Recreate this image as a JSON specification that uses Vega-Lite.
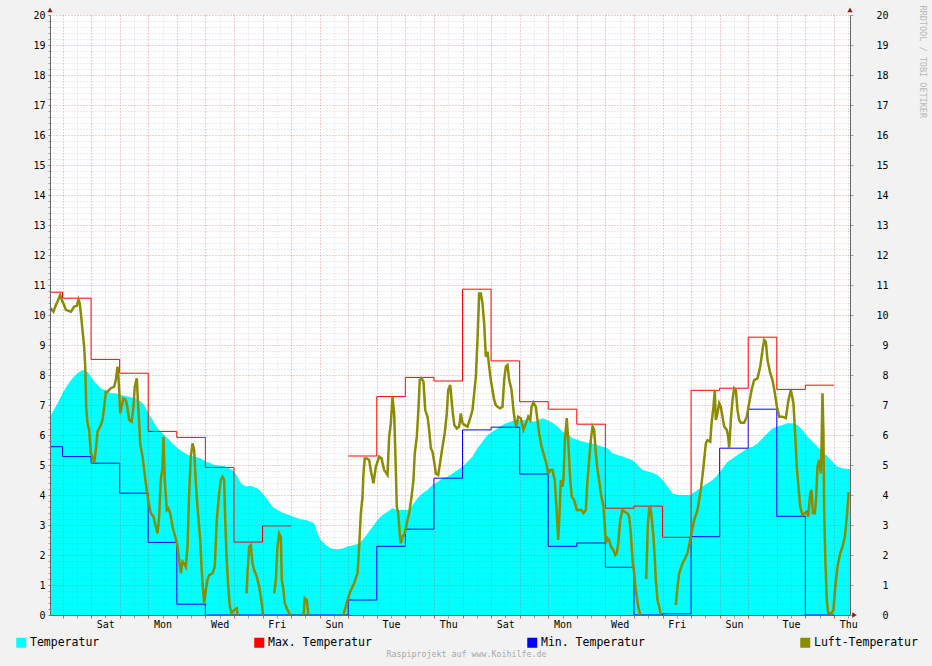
{
  "$schema": "https://vega.github.io/schema/vega-lite/v6.json",
  "description": "RRDtool-style 4-week temperature graph: water temperature area, daily max/min steps, air temperature line.",
  "width": 800,
  "height": 600,
  "autosize": {"type": "none"},
  "padding": {"left": 50, "top": 15, "right": 82, "bottom": 51},
  "background": "#f2f2f2",
  "datasets": {
    "temp": [
      {"h": -10.5, "v": 6.61}, {"h": -4.2, "v": 7.06}, {"h": 0, "v": 7.39}, {"h": 4.2, "v": 7.67}, {"h": 8.4, "v": 7.89},
      {"h": 12.6, "v": 8.06}, {"h": 16.8, "v": 8.17}, {"h": 21, "v": 8.11}, {"h": 23.8, "v": 7.94}, {"h": 28, "v": 7.72},
      {"h": 32.2, "v": 7.56}, {"h": 35, "v": 7.5}, {"h": 40.6, "v": 7.39}, {"h": 44.8, "v": 7.39}, {"h": 49, "v": 7.33},
      {"h": 54.6, "v": 7.28}, {"h": 61.6, "v": 7.22}, {"h": 65.8, "v": 7.11}, {"h": 68.6, "v": 7.0}, {"h": 71.4, "v": 6.78},
      {"h": 75.6, "v": 6.5}, {"h": 79.8, "v": 6.22}, {"h": 84, "v": 6.06}, {"h": 88.2, "v": 5.89}, {"h": 92.4, "v": 5.72},
      {"h": 96.6, "v": 5.56}, {"h": 100.8, "v": 5.44}, {"h": 105, "v": 5.33}, {"h": 110.6, "v": 5.28}, {"h": 116.2, "v": 5.22},
      {"h": 120.4, "v": 5.11}, {"h": 124.6, "v": 5.06}, {"h": 127.4, "v": 5.0}, {"h": 135.8, "v": 4.97}, {"h": 140, "v": 4.89},
      {"h": 144.2, "v": 4.78}, {"h": 147, "v": 4.61}, {"h": 149.8, "v": 4.39}, {"h": 154, "v": 4.28}, {"h": 158.2, "v": 4.3},
      {"h": 163.8, "v": 4.22}, {"h": 168, "v": 4.06}, {"h": 172.2, "v": 3.83}, {"h": 176.4, "v": 3.61}, {"h": 180.6, "v": 3.5},
      {"h": 184.8, "v": 3.41}, {"h": 190.4, "v": 3.33}, {"h": 194.6, "v": 3.26}, {"h": 200.2, "v": 3.19}, {"h": 205.8, "v": 3.15},
      {"h": 211.4, "v": 3.06}, {"h": 214.2, "v": 2.72}, {"h": 217, "v": 2.5}, {"h": 221.2, "v": 2.33}, {"h": 225.4, "v": 2.22},
      {"h": 231, "v": 2.19}, {"h": 235.2, "v": 2.22}, {"h": 239.4, "v": 2.28}, {"h": 245, "v": 2.33}, {"h": 249.2, "v": 2.39},
      {"h": 253.4, "v": 2.56}, {"h": 256.2, "v": 2.72}, {"h": 260.4, "v": 2.94}, {"h": 264.6, "v": 3.17}, {"h": 268.8, "v": 3.33},
      {"h": 273, "v": 3.44}, {"h": 277.2, "v": 3.56}, {"h": 281.4, "v": 3.5}, {"h": 291.2, "v": 3.5}, {"h": 294, "v": 3.67},
      {"h": 298.2, "v": 3.89}, {"h": 302.4, "v": 4.06}, {"h": 306.6, "v": 4.17}, {"h": 310.8, "v": 4.33}, {"h": 315, "v": 4.44},
      {"h": 319.2, "v": 4.56}, {"h": 323.4, "v": 4.61}, {"h": 327.6, "v": 4.72}, {"h": 331.8, "v": 4.83}, {"h": 336, "v": 4.94},
      {"h": 340.2, "v": 5.11}, {"h": 344.4, "v": 5.28}, {"h": 348.6, "v": 5.56}, {"h": 352.8, "v": 5.78}, {"h": 357, "v": 6.0},
      {"h": 361.2, "v": 6.11}, {"h": 365.4, "v": 6.22}, {"h": 369.6, "v": 6.33}, {"h": 373.8, "v": 6.41}, {"h": 379.4, "v": 6.48},
      {"h": 385, "v": 6.5}, {"h": 390.6, "v": 6.5}, {"h": 396.2, "v": 6.44}, {"h": 403.2, "v": 6.56}, {"h": 407.4, "v": 6.5},
      {"h": 411.6, "v": 6.41}, {"h": 415.8, "v": 6.28}, {"h": 420, "v": 6.11}, {"h": 424.2, "v": 6.03}, {"h": 428.4, "v": 5.89},
      {"h": 432.6, "v": 5.83}, {"h": 436.8, "v": 5.78}, {"h": 441, "v": 5.74}, {"h": 445.2, "v": 5.72}, {"h": 449.4, "v": 5.67},
      {"h": 453.6, "v": 5.61}, {"h": 457.8, "v": 5.56}, {"h": 462, "v": 5.39}, {"h": 466.2, "v": 5.33}, {"h": 470.4, "v": 5.28},
      {"h": 474.6, "v": 5.22}, {"h": 478.8, "v": 5.17}, {"h": 483, "v": 5.0}, {"h": 487.2, "v": 4.83}, {"h": 491.4, "v": 4.78},
      {"h": 495.6, "v": 4.74}, {"h": 499.8, "v": 4.67}, {"h": 504, "v": 4.5}, {"h": 508.2, "v": 4.28}, {"h": 512.4, "v": 4.06},
      {"h": 516.6, "v": 4.0}, {"h": 527.8, "v": 4.0}, {"h": 529.2, "v": 4.06}, {"h": 533.4, "v": 4.17}, {"h": 537.6, "v": 4.28},
      {"h": 541.8, "v": 4.39}, {"h": 546, "v": 4.5}, {"h": 550.2, "v": 4.67}, {"h": 554.4, "v": 4.89}, {"h": 558.6, "v": 5.11},
      {"h": 562.8, "v": 5.22}, {"h": 567, "v": 5.33}, {"h": 571.2, "v": 5.44}, {"h": 575.4, "v": 5.56}, {"h": 579.6, "v": 5.61},
      {"h": 583.8, "v": 5.72}, {"h": 588, "v": 5.89}, {"h": 592.2, "v": 6.06}, {"h": 596.4, "v": 6.22}, {"h": 600.6, "v": 6.28},
      {"h": 604.8, "v": 6.33}, {"h": 609, "v": 6.39}, {"h": 613.2, "v": 6.39}, {"h": 617.4, "v": 6.33}, {"h": 621.6, "v": 6.17},
      {"h": 625.8, "v": 5.94}, {"h": 630, "v": 5.78}, {"h": 634.2, "v": 5.61}, {"h": 638.4, "v": 5.44}, {"h": 642.6, "v": 5.28},
      {"h": 646.8, "v": 5.11}, {"h": 651, "v": 4.94}, {"h": 655.2, "v": 4.89}, {"h": 659.4, "v": 4.87}, {"h": 661.5, "v": 4.87}
    ],
    "maxT": [
      {"h": -10.5, "v": 10.76, "seg": 1}, {"h": 0, "v": 10.56, "seg": 1}, {"h": 24, "v": 8.52, "seg": 1}, {"h": 48, "v": 8.06, "seg": 1},
      {"h": 72, "v": 6.12, "seg": 1}, {"h": 96, "v": 5.92, "seg": 1}, {"h": 120, "v": 4.92, "seg": 1}, {"h": 144, "v": 2.43, "seg": 1},
      {"h": 168, "v": 2.97, "seg": 1}, {"h": 192, "v": 2.97, "seg": 1},
      {"h": 240, "v": 5.3, "seg": 2}, {"h": 264, "v": 7.28, "seg": 2}, {"h": 288, "v": 7.92, "seg": 2}, {"h": 312, "v": 7.8, "seg": 2},
      {"h": 336, "v": 10.86, "seg": 2}, {"h": 360, "v": 8.47, "seg": 2}, {"h": 384, "v": 7.11, "seg": 2}, {"h": 408, "v": 6.86, "seg": 2},
      {"h": 432, "v": 6.36, "seg": 2}, {"h": 456, "v": 3.56, "seg": 2}, {"h": 480, "v": 3.63, "seg": 2}, {"h": 504, "v": 2.59, "seg": 2},
      {"h": 528, "v": 7.49, "seg": 2}, {"h": 552, "v": 7.56, "seg": 2}, {"h": 576, "v": 9.26, "seg": 2}, {"h": 600, "v": 7.52, "seg": 2},
      {"h": 624, "v": 7.66, "seg": 2}, {"h": 648, "v": 7.66, "seg": 2}
    ],
    "minT": [
      {"h": -10.5, "v": 5.61}, {"h": 0, "v": 5.28}, {"h": 24, "v": 5.06}, {"h": 48, "v": 4.06}, {"h": 72, "v": 2.42},
      {"h": 96, "v": 0.36}, {"h": 120, "v": 0}, {"h": 144, "v": 0}, {"h": 168, "v": 0}, {"h": 192, "v": 0}, {"h": 216, "v": 0},
      {"h": 240, "v": 0.5}, {"h": 264, "v": 2.29}, {"h": 288, "v": 2.86}, {"h": 312, "v": 4.56}, {"h": 336, "v": 6.17},
      {"h": 360, "v": 6.26}, {"h": 384, "v": 4.7}, {"h": 408, "v": 2.29}, {"h": 432, "v": 2.4}, {"h": 456, "v": 1.59},
      {"h": 480, "v": 0}, {"h": 504, "v": 0.04}, {"h": 528, "v": 2.61}, {"h": 552, "v": 5.56}, {"h": 576, "v": 6.86},
      {"h": 600, "v": 3.29}, {"h": 624, "v": 0}, {"h": 648, "v": 0}
    ],
    "luft": [
      {"h": -10.5, "v": 10.25, "seg": 1}, {"h": -7.6, "v": 10.11, "seg": 1}, {"h": -5.6, "v": 10.33, "seg": 1}, {"h": -4.2, "v": 10.44, "seg": 1},
      {"h": -1.9, "v": 10.67, "seg": 1}, {"h": 0, "v": 10.44, "seg": 1}, {"h": 1.4, "v": 10.33, "seg": 1}, {"h": 2.8, "v": 10.17, "seg": 1},
      {"h": 7, "v": 10.11, "seg": 1}, {"h": 8.4, "v": 10.19, "seg": 1}, {"h": 9.8, "v": 10.28, "seg": 1}, {"h": 12, "v": 10.3, "seg": 1},
      {"h": 13.4, "v": 10.52, "seg": 1}, {"h": 14.5, "v": 10.39, "seg": 1}, {"h": 15.4, "v": 10.06, "seg": 1}, {"h": 16.8, "v": 9.5, "seg": 1},
      {"h": 18.2, "v": 8.94, "seg": 1}, {"h": 19.1, "v": 8.28, "seg": 1}, {"h": 19.9, "v": 6.94, "seg": 1}, {"h": 21, "v": 6.39, "seg": 1},
      {"h": 22.4, "v": 6.17, "seg": 1}, {"h": 23.8, "v": 5.39, "seg": 1}, {"h": 25.2, "v": 5.28, "seg": 1}, {"h": 26.6, "v": 5.06, "seg": 1},
      {"h": 28, "v": 5.5, "seg": 1}, {"h": 29.4, "v": 6.11, "seg": 1}, {"h": 30.8, "v": 6.22, "seg": 1}, {"h": 32.2, "v": 6.33, "seg": 1},
      {"h": 33.6, "v": 6.5, "seg": 1}, {"h": 35, "v": 6.94, "seg": 1}, {"h": 36.4, "v": 7.44, "seg": 1}, {"h": 37.8, "v": 7.44, "seg": 1},
      {"h": 40.6, "v": 7.56, "seg": 1}, {"h": 43.4, "v": 7.61, "seg": 1}, {"h": 44.8, "v": 7.83, "seg": 1}, {"h": 46.2, "v": 8.28, "seg": 1},
      {"h": 47, "v": 7.94, "seg": 1}, {"h": 47.6, "v": 7.5, "seg": 1}, {"h": 48.5, "v": 6.72, "seg": 1}, {"h": 49.6, "v": 6.94, "seg": 1},
      {"h": 51.2, "v": 7.22, "seg": 1}, {"h": 53.2, "v": 7.17, "seg": 1}, {"h": 54.6, "v": 6.89, "seg": 1}, {"h": 56, "v": 6.5, "seg": 1},
      {"h": 58, "v": 6.44, "seg": 1}, {"h": 59.6, "v": 6.94, "seg": 1}, {"h": 60.7, "v": 7.61, "seg": 1}, {"h": 62.4, "v": 7.89, "seg": 1},
      {"h": 63.6, "v": 6.94, "seg": 1}, {"h": 65.3, "v": 5.72, "seg": 1}, {"h": 67.2, "v": 5.28, "seg": 1}, {"h": 68.6, "v": 4.83, "seg": 1},
      {"h": 70, "v": 4.39, "seg": 1}, {"h": 72, "v": 3.83, "seg": 1}, {"h": 74.2, "v": 3.39, "seg": 1}, {"h": 76.4, "v": 3.28, "seg": 1},
      {"h": 78.4, "v": 2.94, "seg": 1}, {"h": 79.8, "v": 2.72, "seg": 1}, {"h": 81.2, "v": 3.28, "seg": 1}, {"h": 82.6, "v": 4.5, "seg": 1},
      {"h": 84, "v": 4.94, "seg": 1}, {"h": 84.8, "v": 5.94, "seg": 1}, {"h": 85.9, "v": 4.5, "seg": 1}, {"h": 87.6, "v": 3.5, "seg": 1},
      {"h": 88.8, "v": 3.56, "seg": 1}, {"h": 90.5, "v": 3.39, "seg": 1}, {"h": 92.4, "v": 2.94, "seg": 1}, {"h": 94.7, "v": 2.61, "seg": 1},
      {"h": 96.6, "v": 2.28, "seg": 1}, {"h": 98, "v": 1.83, "seg": 1}, {"h": 99.4, "v": 1.39, "seg": 1}, {"h": 100.8, "v": 1.78, "seg": 1},
      {"h": 102.2, "v": 1.72, "seg": 1}, {"h": 103.6, "v": 1.61, "seg": 1}, {"h": 105, "v": 2.28, "seg": 1}, {"h": 106.4, "v": 4.06, "seg": 1},
      {"h": 107.8, "v": 5.28, "seg": 1}, {"h": 109.2, "v": 5.72, "seg": 1}, {"h": 110.6, "v": 5.5, "seg": 1}, {"h": 112, "v": 4.39, "seg": 1},
      {"h": 113.4, "v": 3.61, "seg": 1}, {"h": 115.7, "v": 2.5, "seg": 1}, {"h": 116.8, "v": 1.61, "seg": 1}, {"h": 117.6, "v": 1.06, "seg": 1},
      {"h": 119, "v": 0.39, "seg": 1}, {"h": 120.4, "v": 0.83, "seg": 1}, {"h": 121.8, "v": 1.17, "seg": 1}, {"h": 123.2, "v": 1.33, "seg": 1},
      {"h": 126, "v": 1.39, "seg": 1}, {"h": 127.9, "v": 1.61, "seg": 1}, {"h": 129.6, "v": 3.17, "seg": 1}, {"h": 131.6, "v": 4.06, "seg": 1},
      {"h": 133, "v": 4.5, "seg": 1}, {"h": 134.4, "v": 4.61, "seg": 1}, {"h": 135.8, "v": 4.5, "seg": 1}, {"h": 136.7, "v": 3.17, "seg": 1},
      {"h": 137.8, "v": 1.94, "seg": 1}, {"h": 139.2, "v": 0.94, "seg": 1}, {"h": 140.6, "v": 0.28, "seg": 1}, {"h": 142, "v": 0.06, "seg": 1},
      {"h": 144.2, "v": 0.17, "seg": 1}, {"h": 146.4, "v": 0.22, "seg": 1}, {"h": 147, "v": 0, "seg": 1},
      {"h": 154.6, "v": 0.72, "seg": 2}, {"h": 155.4, "v": 1.39, "seg": 2}, {"h": 156.8, "v": 2.28, "seg": 2}, {"h": 158.2, "v": 2.33, "seg": 2},
      {"h": 159.6, "v": 1.72, "seg": 2}, {"h": 161, "v": 1.5, "seg": 2}, {"h": 163.2, "v": 1.28, "seg": 2}, {"h": 165.2, "v": 0.94, "seg": 2},
      {"h": 166.6, "v": 0.61, "seg": 2}, {"h": 168, "v": 0.17, "seg": 2}, {"h": 168.8, "v": -0.3, "seg": 2},
      {"h": 177.8, "v": 0.72, "seg": 3}, {"h": 179.2, "v": 1.17, "seg": 3}, {"h": 180.6, "v": 2.28, "seg": 3}, {"h": 182, "v": 2.72, "seg": 3},
      {"h": 183.4, "v": 2.61, "seg": 3}, {"h": 184.2, "v": 1.17, "seg": 3}, {"h": 185.6, "v": 0.83, "seg": 3}, {"h": 186.7, "v": 0.39, "seg": 3},
      {"h": 189, "v": 0.17, "seg": 3}, {"h": 191.3, "v": 0, "seg": 3}, {"h": 192.4, "v": -0.5, "seg": 3}, {"h": 200.8, "v": -0.5, "seg": 3},
      {"h": 202.4, "v": 0, "seg": 3}, {"h": 203.5, "v": 0.56, "seg": 3}, {"h": 205.2, "v": 0.5, "seg": 3}, {"h": 206.4, "v": 0.06, "seg": 3},
      {"h": 207.5, "v": -0.5, "seg": 3}, {"h": 234.4, "v": -0.5, "seg": 3}, {"h": 236, "v": 0, "seg": 3}, {"h": 239.4, "v": 0.5, "seg": 3},
      {"h": 241.7, "v": 0.78, "seg": 3}, {"h": 245, "v": 1.06, "seg": 3}, {"h": 247.8, "v": 1.39, "seg": 3}, {"h": 249.2, "v": 2.28, "seg": 3},
      {"h": 250.6, "v": 3.39, "seg": 3}, {"h": 252, "v": 3.94, "seg": 3}, {"h": 252.8, "v": 4.72, "seg": 3}, {"h": 253.9, "v": 5.22, "seg": 3},
      {"h": 255.6, "v": 5.22, "seg": 3}, {"h": 257.6, "v": 5.17, "seg": 3}, {"h": 258.9, "v": 4.83, "seg": 3}, {"h": 261.2, "v": 4.39, "seg": 3},
      {"h": 263.2, "v": 4.94, "seg": 3}, {"h": 266, "v": 5.28, "seg": 3}, {"h": 268, "v": 5.22, "seg": 3}, {"h": 270.2, "v": 4.83, "seg": 3},
      {"h": 273, "v": 4.67, "seg": 3}, {"h": 274.4, "v": 5.94, "seg": 3}, {"h": 275.8, "v": 6.39, "seg": 3}, {"h": 277.2, "v": 7.28, "seg": 3},
      {"h": 278.6, "v": 6.72, "seg": 3}, {"h": 280, "v": 4.83, "seg": 3}, {"h": 280.8, "v": 3.61, "seg": 3}, {"h": 282, "v": 3.39, "seg": 3},
      {"h": 283.3, "v": 2.72, "seg": 3}, {"h": 284.2, "v": 2.39, "seg": 3}, {"h": 285.6, "v": 2.61, "seg": 3}, {"h": 287.5, "v": 2.72, "seg": 3},
      {"h": 289.2, "v": 3.06, "seg": 3}, {"h": 291.2, "v": 3.39, "seg": 3}, {"h": 293.2, "v": 3.94, "seg": 3}, {"h": 294.8, "v": 4.5, "seg": 3},
      {"h": 295.9, "v": 5.39, "seg": 3}, {"h": 297.6, "v": 5.94, "seg": 3}, {"h": 298.8, "v": 6.72, "seg": 3}, {"h": 300.1, "v": 7.83, "seg": 3},
      {"h": 301.6, "v": 7.89, "seg": 3}, {"h": 303.2, "v": 7.78, "seg": 3}, {"h": 304.7, "v": 6.83, "seg": 3}, {"h": 306.6, "v": 6.61, "seg": 3},
      {"h": 308, "v": 6.17, "seg": 3}, {"h": 309.4, "v": 5.56, "seg": 3}, {"h": 310.8, "v": 5.44, "seg": 3}, {"h": 312.2, "v": 5.11, "seg": 3},
      {"h": 313.6, "v": 4.72, "seg": 3}, {"h": 315.6, "v": 4.67, "seg": 3}, {"h": 317.3, "v": 5.11, "seg": 3}, {"h": 319.2, "v": 5.61, "seg": 3},
      {"h": 321.1, "v": 6.06, "seg": 3}, {"h": 322.8, "v": 6.72, "seg": 3}, {"h": 324, "v": 7.5, "seg": 3}, {"h": 325.7, "v": 7.67, "seg": 3},
      {"h": 326.8, "v": 7.17, "seg": 3}, {"h": 327.9, "v": 6.72, "seg": 3}, {"h": 329.1, "v": 6.33, "seg": 3}, {"h": 331.2, "v": 6.22, "seg": 3},
      {"h": 333.2, "v": 6.28, "seg": 3}, {"h": 334.6, "v": 6.72, "seg": 3}, {"h": 336, "v": 6.39, "seg": 3}, {"h": 337.9, "v": 6.33, "seg": 3},
      {"h": 340.2, "v": 6.28, "seg": 3}, {"h": 342.5, "v": 6.56, "seg": 3}, {"h": 344.4, "v": 6.83, "seg": 3}, {"h": 345.8, "v": 7.39, "seg": 3},
      {"h": 347.2, "v": 7.94, "seg": 3}, {"h": 348.6, "v": 9.17, "seg": 3}, {"h": 350, "v": 10.72, "seg": 3}, {"h": 351.4, "v": 10.72, "seg": 3},
      {"h": 352.8, "v": 10.39, "seg": 3}, {"h": 354.2, "v": 9.72, "seg": 3}, {"h": 355.6, "v": 8.61, "seg": 3}, {"h": 357, "v": 8.78, "seg": 3},
      {"h": 358.4, "v": 8.28, "seg": 3}, {"h": 359.8, "v": 7.83, "seg": 3}, {"h": 361.2, "v": 7.5, "seg": 3}, {"h": 362.6, "v": 7.17, "seg": 3},
      {"h": 364, "v": 7.0, "seg": 3}, {"h": 365.4, "v": 6.94, "seg": 3}, {"h": 367.6, "v": 6.89, "seg": 3}, {"h": 369.6, "v": 6.94, "seg": 3},
      {"h": 371, "v": 7.83, "seg": 3}, {"h": 372.4, "v": 8.28, "seg": 3}, {"h": 373.8, "v": 8.33, "seg": 3}, {"h": 375.2, "v": 7.83, "seg": 3},
      {"h": 377.2, "v": 7.5, "seg": 3}, {"h": 378.8, "v": 6.83, "seg": 3}, {"h": 379.9, "v": 6.5, "seg": 3}, {"h": 381.1, "v": 6.28, "seg": 3},
      {"h": 382.8, "v": 6.61, "seg": 3}, {"h": 385, "v": 6.56, "seg": 3}, {"h": 387.2, "v": 6.17, "seg": 3}, {"h": 389.2, "v": 6.39, "seg": 3},
      {"h": 391.2, "v": 6.61, "seg": 3}, {"h": 392.9, "v": 6.5, "seg": 3}, {"h": 394, "v": 6.94, "seg": 3}, {"h": 395.6, "v": 7.08, "seg": 3},
      {"h": 397.6, "v": 6.94, "seg": 3}, {"h": 399, "v": 6.5, "seg": 3}, {"h": 400.4, "v": 6.06, "seg": 3}, {"h": 402.4, "v": 5.61, "seg": 3},
      {"h": 404, "v": 5.39, "seg": 3}, {"h": 406, "v": 5.11, "seg": 3}, {"h": 408, "v": 4.72, "seg": 3}, {"h": 409.7, "v": 4.83, "seg": 3},
      {"h": 411.6, "v": 4.83, "seg": 3}, {"h": 413.5, "v": 4.5, "seg": 3}, {"h": 415.2, "v": 3.39, "seg": 3}, {"h": 416.4, "v": 2.5, "seg": 3},
      {"h": 417.5, "v": 3.39, "seg": 3}, {"h": 418.6, "v": 4.5, "seg": 3}, {"h": 420, "v": 4.28, "seg": 3}, {"h": 420.8, "v": 4.5, "seg": 3},
      {"h": 422, "v": 5.83, "seg": 3}, {"h": 423.6, "v": 6.56, "seg": 3}, {"h": 424.8, "v": 5.83, "seg": 3}, {"h": 426.5, "v": 4.5, "seg": 3},
      {"h": 427.8, "v": 3.94, "seg": 3}, {"h": 429.8, "v": 3.83, "seg": 3}, {"h": 432, "v": 3.5, "seg": 3}, {"h": 434, "v": 3.5, "seg": 3},
      {"h": 436, "v": 3.5, "seg": 3}, {"h": 437.6, "v": 3.39, "seg": 3}, {"h": 439.6, "v": 3.5, "seg": 3}, {"h": 441, "v": 4.5, "seg": 3},
      {"h": 442.4, "v": 5.17, "seg": 3}, {"h": 443.8, "v": 5.83, "seg": 3}, {"h": 445.2, "v": 6.28, "seg": 3}, {"h": 446.6, "v": 6.17, "seg": 3},
      {"h": 448, "v": 5.39, "seg": 3}, {"h": 449.4, "v": 4.83, "seg": 3}, {"h": 450.8, "v": 4.5, "seg": 3}, {"h": 452.2, "v": 4.06, "seg": 3},
      {"h": 454.4, "v": 3.61, "seg": 3}, {"h": 455.6, "v": 2.94, "seg": 3}, {"h": 456.4, "v": 2.39, "seg": 3}, {"h": 457.8, "v": 2.56, "seg": 3},
      {"h": 459.2, "v": 2.5, "seg": 3}, {"h": 460.6, "v": 2.28, "seg": 3}, {"h": 462.6, "v": 2.17, "seg": 3}, {"h": 464.3, "v": 2.0, "seg": 3},
      {"h": 465.6, "v": 2.06, "seg": 3}, {"h": 466.8, "v": 2.39, "seg": 3}, {"h": 468.5, "v": 3.17, "seg": 3}, {"h": 470.4, "v": 3.5, "seg": 3},
      {"h": 472.3, "v": 3.44, "seg": 3}, {"h": 474.6, "v": 3.39, "seg": 3}, {"h": 476, "v": 3.28, "seg": 3}, {"h": 477.4, "v": 2.72, "seg": 3},
      {"h": 478.8, "v": 1.83, "seg": 3}, {"h": 480.2, "v": 1.39, "seg": 3}, {"h": 481.6, "v": 0.83, "seg": 3}, {"h": 483.6, "v": 0.28, "seg": 3},
      {"h": 485.3, "v": 0, "seg": 3}, {"h": 486.4, "v": -0.5, "seg": 3},
      {"h": 490.3, "v": 1.2, "seg": 4}, {"h": 491.7, "v": 3.0, "seg": 4}, {"h": 492.8, "v": 3.56, "seg": 4}, {"h": 493.9, "v": 3.56, "seg": 4},
      {"h": 494.8, "v": 3.28, "seg": 4}, {"h": 496.4, "v": 2.61, "seg": 4}, {"h": 497.5, "v": 1.89, "seg": 4}, {"h": 498.4, "v": 1.17, "seg": 4},
      {"h": 499.8, "v": 0.5, "seg": 4}, {"h": 501.2, "v": 0.28, "seg": 4}, {"h": 502.6, "v": 0, "seg": 4}, {"h": 504, "v": -0.5, "seg": 4},
      {"h": 515.2, "v": 0.33, "seg": 5}, {"h": 516.6, "v": 0.94, "seg": 5}, {"h": 518, "v": 1.39, "seg": 5}, {"h": 520.8, "v": 1.72, "seg": 5},
      {"h": 523.6, "v": 1.94, "seg": 5}, {"h": 525, "v": 2.06, "seg": 5}, {"h": 527.8, "v": 2.61, "seg": 5}, {"h": 530.6, "v": 3.17, "seg": 5},
      {"h": 533.4, "v": 3.5, "seg": 5}, {"h": 536.2, "v": 4.17, "seg": 5}, {"h": 538.4, "v": 4.94, "seg": 5}, {"h": 540.4, "v": 5.72, "seg": 5},
      {"h": 541.8, "v": 5.83, "seg": 5}, {"h": 544.1, "v": 5.78, "seg": 5}, {"h": 545.2, "v": 6.39, "seg": 5}, {"h": 546.8, "v": 6.94, "seg": 5},
      {"h": 547.9, "v": 7.5, "seg": 5}, {"h": 548.8, "v": 6.5, "seg": 5}, {"h": 550.2, "v": 6.72, "seg": 5}, {"h": 551.6, "v": 7.06, "seg": 5},
      {"h": 553, "v": 6.94, "seg": 5}, {"h": 554.4, "v": 6.61, "seg": 5}, {"h": 555.8, "v": 6.28, "seg": 5}, {"h": 558, "v": 6.17, "seg": 5},
      {"h": 559.2, "v": 5.94, "seg": 5}, {"h": 560, "v": 5.56, "seg": 5}, {"h": 561.4, "v": 6.5, "seg": 5}, {"h": 562.8, "v": 7.17, "seg": 5},
      {"h": 564.2, "v": 7.56, "seg": 5}, {"h": 565.6, "v": 7.5, "seg": 5}, {"h": 567, "v": 6.83, "seg": 5}, {"h": 568.4, "v": 6.5, "seg": 5},
      {"h": 569.8, "v": 6.41, "seg": 5}, {"h": 572.6, "v": 6.41, "seg": 5}, {"h": 574.8, "v": 6.61, "seg": 5}, {"h": 576.8, "v": 7.06, "seg": 5},
      {"h": 578.8, "v": 7.5, "seg": 5}, {"h": 581, "v": 7.83, "seg": 5}, {"h": 583.8, "v": 7.89, "seg": 5}, {"h": 586.1, "v": 8.28, "seg": 5},
      {"h": 588, "v": 8.83, "seg": 5}, {"h": 589.4, "v": 9.17, "seg": 5}, {"h": 590.8, "v": 9.11, "seg": 5}, {"h": 592.2, "v": 8.5, "seg": 5},
      {"h": 594.5, "v": 8.06, "seg": 5}, {"h": 596.4, "v": 7.83, "seg": 5}, {"h": 598.4, "v": 7.39, "seg": 5}, {"h": 600.1, "v": 6.94, "seg": 5},
      {"h": 602.1, "v": 6.61, "seg": 5}, {"h": 604.8, "v": 6.61, "seg": 5}, {"h": 607.6, "v": 6.56, "seg": 5}, {"h": 609.8, "v": 7.17, "seg": 5},
      {"h": 611.8, "v": 7.5, "seg": 5}, {"h": 614, "v": 7.06, "seg": 5}, {"h": 615.1, "v": 6.28, "seg": 5}, {"h": 616.8, "v": 4.94, "seg": 5},
      {"h": 618.2, "v": 4.28, "seg": 5}, {"h": 619.7, "v": 3.61, "seg": 5}, {"h": 621.6, "v": 3.33, "seg": 5}, {"h": 623.5, "v": 3.39, "seg": 5},
      {"h": 625.2, "v": 3.44, "seg": 5}, {"h": 626.4, "v": 3.28, "seg": 5}, {"h": 628.1, "v": 4.06, "seg": 5}, {"h": 629.2, "v": 4.17, "seg": 5},
      {"h": 630.3, "v": 3.39, "seg": 5}, {"h": 632, "v": 3.39, "seg": 5}, {"h": 633.1, "v": 3.94, "seg": 5}, {"h": 634.2, "v": 4.94, "seg": 5},
      {"h": 635.6, "v": 5.17, "seg": 5}, {"h": 637, "v": 4.72, "seg": 5}, {"h": 637.8, "v": 6.06, "seg": 5}, {"h": 638.4, "v": 7.39, "seg": 5},
      {"h": 639.2, "v": 6.06, "seg": 5}, {"h": 639.8, "v": 3.39, "seg": 5}, {"h": 640.9, "v": 1.72, "seg": 5}, {"h": 642, "v": 0.5, "seg": 5},
      {"h": 643.2, "v": 0.06, "seg": 5}, {"h": 646, "v": 0.06, "seg": 5}, {"h": 647.6, "v": 0.17, "seg": 5}, {"h": 649.1, "v": 0.94, "seg": 5},
      {"h": 651, "v": 1.61, "seg": 5}, {"h": 653.3, "v": 2.06, "seg": 5}, {"h": 655.2, "v": 2.28, "seg": 5}, {"h": 657.2, "v": 2.61, "seg": 5},
      {"h": 659.1, "v": 3.39, "seg": 5}, {"h": 660.3, "v": 4.06, "seg": 5}, {"h": 661.1, "v": 4.06, "seg": 5}
    ]
  },
  "layer": [
    {
      "data": {"name": "temp"},
      "mark": {"type": "area", "opacity": 1, "clip": true},
      "encoding": {
        "x": {
          "field": "h",
          "type": "quantitative",
          "scale": {"domain": [-10.5, 661.5], "nice": false, "zero": false},
          "axis": {
            "orient": "bottom",
            "values": [0, 12, 24, 36, 48, 60, 72, 84, 96, 108, 120, 132, 144, 156, 168, 180, 192, 204, 216, 228, 240, 252, 264, 276, 288, 300, 312, 324, 336, 348, 360, 372, 384, 396, 408, 420, 432, 444, 456, 468, 480, 492, 504, 516, 528, 540, 552, 564, 576, 588, 600, 612, 624, 636, 648, 660],
            "labelExpr": "datum.value === 36 ? 'Sat' : datum.value === 84 ? 'Mon' : datum.value === 132 ? 'Wed' : datum.value === 180 ? 'Fri' : datum.value === 228 ? 'Sun' : datum.value === 276 ? 'Tue' : datum.value === 324 ? 'Thu' : datum.value === 372 ? 'Sat' : datum.value === 420 ? 'Mon' : datum.value === 468 ? 'Wed' : datum.value === 516 ? 'Fri' : datum.value === 564 ? 'Sun' : datum.value === 612 ? 'Tue' : datum.value === 660 ? 'Thu' : ''",
            "labelOverlap": false,
            "labelPadding": 1,
            "tickSize": 3,
            "tickColor": {"condition": {"test": "datum.value % 24 === 0", "value": "#d06060"}, "value": "#a0a0a0"},
            "grid": true,
            "gridColor": {"condition": {"test": "datum.value % 24 === 0", "value": "#d04040"}, "value": "#909090"},
            "gridOpacity": {"condition": {"test": "datum.value % 24 === 0", "value": 0.5}, "value": 0.35},
            "gridDash": [1, 2],
            "zindex": 1,
            "title": "Raspiprojekt auf www.Koihilfe.de",
            "titleFont": "DejaVu Sans Mono",
            "titleFontSize": 8.3,
            "titleFontWeight": "normal",
            "titleColor": "#a8a8a8",
            "titleX": 416,
            "titleY": 39,
            "titleAlign": "center",
            "titleBaseline": "middle"
          }
        },
        "y": {
          "field": "v",
          "type": "quantitative",
          "scale": {"domain": [0, 20], "nice": false, "zero": true},
          "axis": {
            "orient": "left",
            "tickCount": 100,
            "labelExpr": "datum.value % 1 === 0 ? format(datum.value, 'd') : ''",
            "labelOverlap": false,
            "labelPadding": 3,
            "tickSize": 2,
            "tickColor": {"condition": {"test": "datum.value % 1 === 0", "value": "#d06060"}, "value": "#a0a0a0"},
            "grid": true,
            "gridColor": {"condition": {"test": "datum.value % 1 === 0", "value": "#d04040"}, "value": "#909090"},
            "gridOpacity": {"condition": {"test": "datum.value % 1 === 0", "value": 0.5}, "value": 0.35},
            "gridDash": [1, 2],
            "zindex": 1,
            "title": null
          }
        },
        "color": {
          "datum": "Temperatur",
          "type": "nominal",
          "scale": {
            "domain": ["Temperatur", "Max. Temperatur", "Min. Temperatur", "Luft-Temperatur"],
            "range": ["#00ffff", "#ff0000", "#0000ff", "#8c8c00"]
          },
          "legend": {
            "title": null,
            "orient": "none",
            "legendX": -34.5,
            "legendY": 622,
            "direction": "horizontal",
            "columnPadding": 152,
            "gridAlign": "none",
            "padding": 0,
            "labelFont": "DejaVu Sans Mono",
            "labelFontSize": 11.5,
            "labelColor": "#000000",
            "labelOffset": 3,
            "symbolType": "square",
            "symbolSize": 72,
            "encode": {
              "symbols": {
                "update": {
                  "fill": {"scale": "color", "field": "value"},
                  "stroke": {"value": "#000000"},
                  "strokeWidth": {"value": 1},
                  "opacity": {"value": 1}
                }
              }
            }
          }
        }
      }
    },
    {
      "data": {"name": "maxT"},
      "mark": {"type": "line", "interpolate": "step-after", "strokeWidth": 1, "clip": true},
      "encoding": {
        "x": {"field": "h", "type": "quantitative", "axis": null},
        "y": {
          "field": "v",
          "type": "quantitative",
          "axis": {
            "orient": "right",
            "tickCount": 20,
            "labelAlign": "right",
            "labelPadding": 35,
            "labelOverlap": false,
            "tickSize": 3,
            "grid": false,
            "title": "RRDTOOL / TOBI OETIKER",
            "titleFont": "DejaVu Sans Mono",
            "titleFontSize": 8.5,
            "titleFontWeight": "normal",
            "titleColor": "#b8b8b8",
            "titleAngle": 90,
            "titleAlign": "left",
            "titleBaseline": "middle",
            "titleX": 72,
            "titleY": -10
          }
        },
        "detail": {"field": "seg"},
        "color": {"datum": "Max. Temperatur", "type": "nominal", "legend": null}
      }
    },
    {
      "data": {"name": "minT"},
      "mark": {"type": "line", "interpolate": "step-after", "strokeWidth": 1, "clip": true},
      "encoding": {
        "x": {"field": "h", "type": "quantitative", "axis": null},
        "y": {"field": "v", "type": "quantitative", "axis": null},
        "color": {"datum": "Min. Temperatur", "type": "nominal", "legend": null}
      }
    },
    {
      "data": {"name": "luft"},
      "mark": {"type": "line", "strokeWidth": 2.5, "clip": true},
      "encoding": {
        "x": {"field": "h", "type": "quantitative", "axis": null},
        "y": {"field": "v", "type": "quantitative", "axis": null},
        "detail": {"field": "seg"},
        "color": {"datum": "Luft-Temperatur", "type": "nominal", "legend": null}
      }
    },
    {
      "data": {"values": [{}]},
      "mark": {"type": "point", "shape": "triangle-up", "filled": true, "size": 28, "color": "#8b1c1c", "opacity": 1, "clip": false},
      "encoding": {
        "x": {"datum": -10.5, "type": "quantitative", "axis": null},
        "y": {"datum": 20.17, "type": "quantitative", "axis": null}
      }
    },
    {
      "data": {"values": [{}]},
      "mark": {"type": "point", "shape": "triangle-up", "filled": true, "size": 28, "color": "#8b1c1c", "opacity": 1, "clip": false},
      "encoding": {
        "x": {"datum": 661.5, "type": "quantitative", "axis": null},
        "y": {"datum": 20.17, "type": "quantitative", "axis": null}
      }
    },
    {
      "data": {"values": [{}]},
      "mark": {"type": "point", "shape": "triangle-right", "filled": true, "size": 28, "color": "#8b1c1c", "opacity": 1, "clip": false},
      "encoding": {
        "x": {"datum": 665.3, "type": "quantitative", "axis": null},
        "y": {"datum": 0, "type": "quantitative", "axis": null}
      }
    }
  ],
  "resolve": {"axis": {"x": "independent", "y": "independent"}},
  "config": {
    "view": {"stroke": null, "fill": "#ffffff"},
    "axis": {
      "labelFont": "DejaVu Sans Mono",
      "labelFontSize": 10,
      "labelColor": "#000000",
      "domainColor": "#666666",
      "domainWidth": 1,
      "tickColor": "#a0a0a0"
    }
  }
}
